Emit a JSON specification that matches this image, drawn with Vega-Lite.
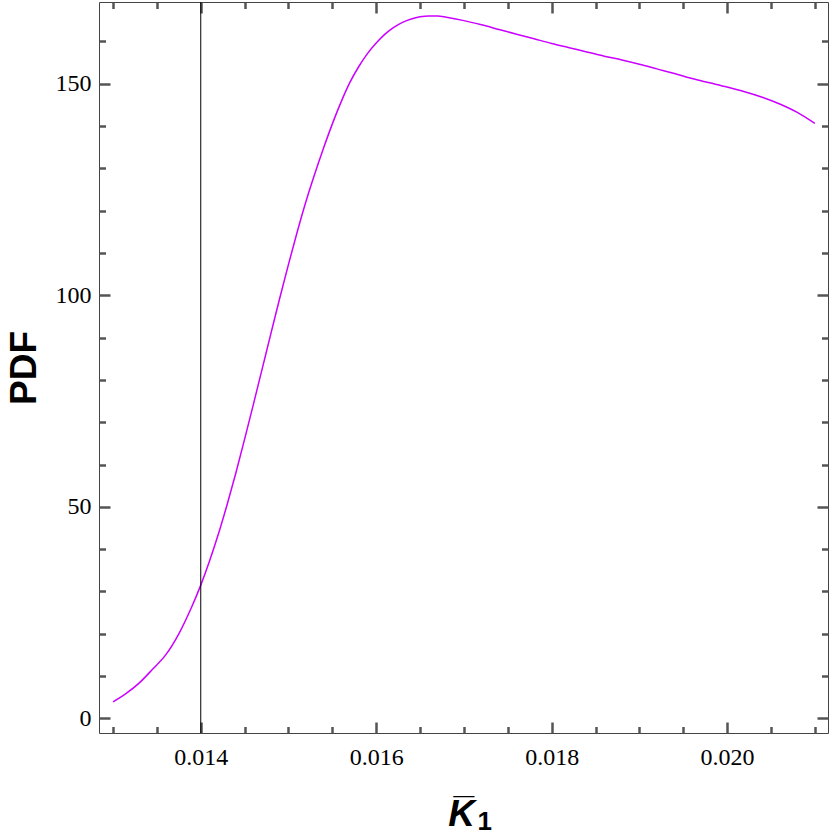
{
  "$schema": "https://vega.github.io/schema/vega-lite/v6.json",
  "width": 729,
  "height": 731,
  "padding": {"left": 99, "top": 2, "right": 2, "bottom": 101},
  "autosize": "none",
  "background": "white",
  "config": {
    "view": {"stroke": "#444", "strokeWidth": 1},
    "axis": {"domain": false, "grid": false, "labelFont": "Liberation Serif", "labelFontSize": 24, "labelColor": "black", "labelFlush": false, "labelOverlap": false}
  },
  "data": {"values": [
    {"K1": 0.0130, "PDF": 3.9},
    {"K1": 0.01315, "PDF": 5.9},
    {"K1": 0.0133, "PDF": 8.4},
    {"K1": 0.01345, "PDF": 11.6},
    {"K1": 0.0136, "PDF": 15.0},
    {"K1": 0.01375, "PDF": 20.0},
    {"K1": 0.0139, "PDF": 26.5},
    {"K1": 0.0140, "PDF": 31.5},
    {"K1": 0.0141, "PDF": 37.2},
    {"K1": 0.0142, "PDF": 43.5},
    {"K1": 0.0143, "PDF": 50.5},
    {"K1": 0.0144, "PDF": 58.0},
    {"K1": 0.0145, "PDF": 66.0},
    {"K1": 0.0146, "PDF": 74.2},
    {"K1": 0.0147, "PDF": 82.6},
    {"K1": 0.0148, "PDF": 91.0},
    {"K1": 0.0149, "PDF": 99.3},
    {"K1": 0.0150, "PDF": 107.3},
    {"K1": 0.0151, "PDF": 115.0},
    {"K1": 0.0152, "PDF": 122.2},
    {"K1": 0.0153, "PDF": 128.7},
    {"K1": 0.0154, "PDF": 134.8},
    {"K1": 0.0155, "PDF": 140.5},
    {"K1": 0.0156, "PDF": 145.7},
    {"K1": 0.0157, "PDF": 150.3},
    {"K1": 0.0158, "PDF": 154.0},
    {"K1": 0.0159, "PDF": 157.1},
    {"K1": 0.0160, "PDF": 159.6},
    {"K1": 0.0161, "PDF": 161.7},
    {"K1": 0.0162, "PDF": 163.3},
    {"K1": 0.0163, "PDF": 164.5},
    {"K1": 0.0164, "PDF": 165.3},
    {"K1": 0.0165, "PDF": 165.8},
    {"K1": 0.0166, "PDF": 166.0},
    {"K1": 0.0167, "PDF": 166.0},
    {"K1": 0.0168, "PDF": 165.7},
    {"K1": 0.0170, "PDF": 164.9},
    {"K1": 0.0172, "PDF": 163.9},
    {"K1": 0.0174, "PDF": 162.8},
    {"K1": 0.0176, "PDF": 161.7},
    {"K1": 0.0178, "PDF": 160.6},
    {"K1": 0.0180, "PDF": 159.5},
    {"K1": 0.0182, "PDF": 158.5},
    {"K1": 0.0184, "PDF": 157.5},
    {"K1": 0.0186, "PDF": 156.5},
    {"K1": 0.0188, "PDF": 155.6},
    {"K1": 0.0190, "PDF": 154.6},
    {"K1": 0.0192, "PDF": 153.5},
    {"K1": 0.0194, "PDF": 152.4},
    {"K1": 0.0196, "PDF": 151.2},
    {"K1": 0.0198, "PDF": 150.2},
    {"K1": 0.0200, "PDF": 149.2},
    {"K1": 0.0202, "PDF": 148.1},
    {"K1": 0.0204, "PDF": 146.8},
    {"K1": 0.0206, "PDF": 145.2},
    {"K1": 0.0208, "PDF": 143.2},
    {"K1": 0.0210, "PDF": 140.6}
  ]},
  "layer": [
    {
      "mark": {"type": "line", "color": "#cc00ff", "strokeWidth": 1.5, "interpolate": "monotone"},
      "encoding": {
        "x": {"field": "K1", "type": "quantitative",
          "scale": {"domain": [0.01284, 0.02115], "nice": false, "zero": false},
          "axis": {"orient": "bottom", "values": [0.014, 0.016, 0.018, 0.020], "format": ".3f", "offset": -11, "tickSize": 11, "tickColor": "#555", "tickWidth": 2.5, "labelPadding": 12,
            "title": "K̅", "titleFont": "Liberation Sans", "titleFontSize": 37, "titleFontWeight": "bold", "titleFontStyle": "italic",
            "titleX": 362, "titleY": 103, "titleAlign": "center", "titleBaseline": "alphabetic", "titleColor": "black"}},
        "y": {"field": "PDF", "type": "quantitative",
          "scale": {"domain": [-3.45, 169.3], "nice": false, "zero": false},
          "axis": {"orient": "left", "values": [0, 50, 100, 150], "offset": -11, "tickSize": 11, "tickColor": "#555", "tickWidth": 2.5, "labelPadding": 8,
            "title": "PDF", "titleFont": "Liberation Sans", "titleFontSize": 37, "titleFontWeight": "bold",
            "titleAngle": -90, "titleX": -75, "titleY": 365.5, "titleAlign": "center", "titleBaseline": "alphabetic", "titleColor": "black"}}
      }
    },
    {
      "data": {"values": [{"K1": 0.014}]},
      "mark": {"type": "rule", "color": "black", "strokeWidth": 1},
      "encoding": {
        "x": {"field": "K1", "type": "quantitative", "axis": null}
      }
    },
    {
      "mark": {"type": "point", "opacity": 0, "size": 0},
      "encoding": {
        "x": {"field": "K1", "type": "quantitative",
          "axis": {"orient": "bottom", "values": [0.013, 0.0135, 0.0145, 0.015, 0.0155, 0.0165, 0.017, 0.0175, 0.0185, 0.019, 0.0195, 0.0205, 0.021], "offset": -6.5, "tickSize": 6.5, "tickColor": "#555", "tickWidth": 2.5, "labels": false,
            "title": "1", "titleFont": "Liberation Sans", "titleFontSize": 26, "titleFontWeight": "bold",
            "titleX": 378, "titleY": 102.5, "titleAlign": "left", "titleBaseline": "alphabetic", "titleColor": "black"}},
        "y": {"field": "PDF", "type": "quantitative",
          "axis": {"orient": "left", "values": [10, 20, 30, 40, 60, 70, 80, 90, 110, 120, 130, 140, 160], "offset": -6.5, "tickSize": 6.5, "tickColor": "#555", "tickWidth": 2.5, "labels": false, "title": null}}
      }
    },
    {
      "mark": {"type": "point", "opacity": 0, "size": 0},
      "encoding": {
        "x": {"field": "K1", "type": "quantitative",
          "axis": {"orient": "top", "values": [0.014, 0.016, 0.018, 0.020], "offset": -11, "tickSize": 11, "tickColor": "#555", "tickWidth": 2.5, "labels": false, "title": null}},
        "y": {"field": "PDF", "type": "quantitative",
          "axis": {"orient": "right", "values": [0, 50, 100, 150], "offset": -11, "tickSize": 11, "tickColor": "#555", "tickWidth": 2.5, "labels": false, "title": null}}
      }
    },
    {
      "mark": {"type": "point", "opacity": 0, "size": 0},
      "encoding": {
        "x": {"field": "K1", "type": "quantitative",
          "axis": {"orient": "top", "values": [0.013, 0.0135, 0.0145, 0.015, 0.0155, 0.0165, 0.017, 0.0175, 0.0185, 0.019, 0.0195, 0.0205, 0.021], "offset": -6.5, "tickSize": 6.5, "tickColor": "#555", "tickWidth": 2.5, "labels": false, "title": null}},
        "y": {"field": "PDF", "type": "quantitative",
          "axis": {"orient": "right", "values": [10, 20, 30, 40, 60, 70, 80, 90, 110, 120, 130, 140, 160], "offset": -6.5, "tickSize": 6.5, "tickColor": "#555", "tickWidth": 2.5, "labels": false, "title": null}}
      }
    }
  ],
  "resolve": {"axis": {"x": "independent", "y": "independent"}}
}
